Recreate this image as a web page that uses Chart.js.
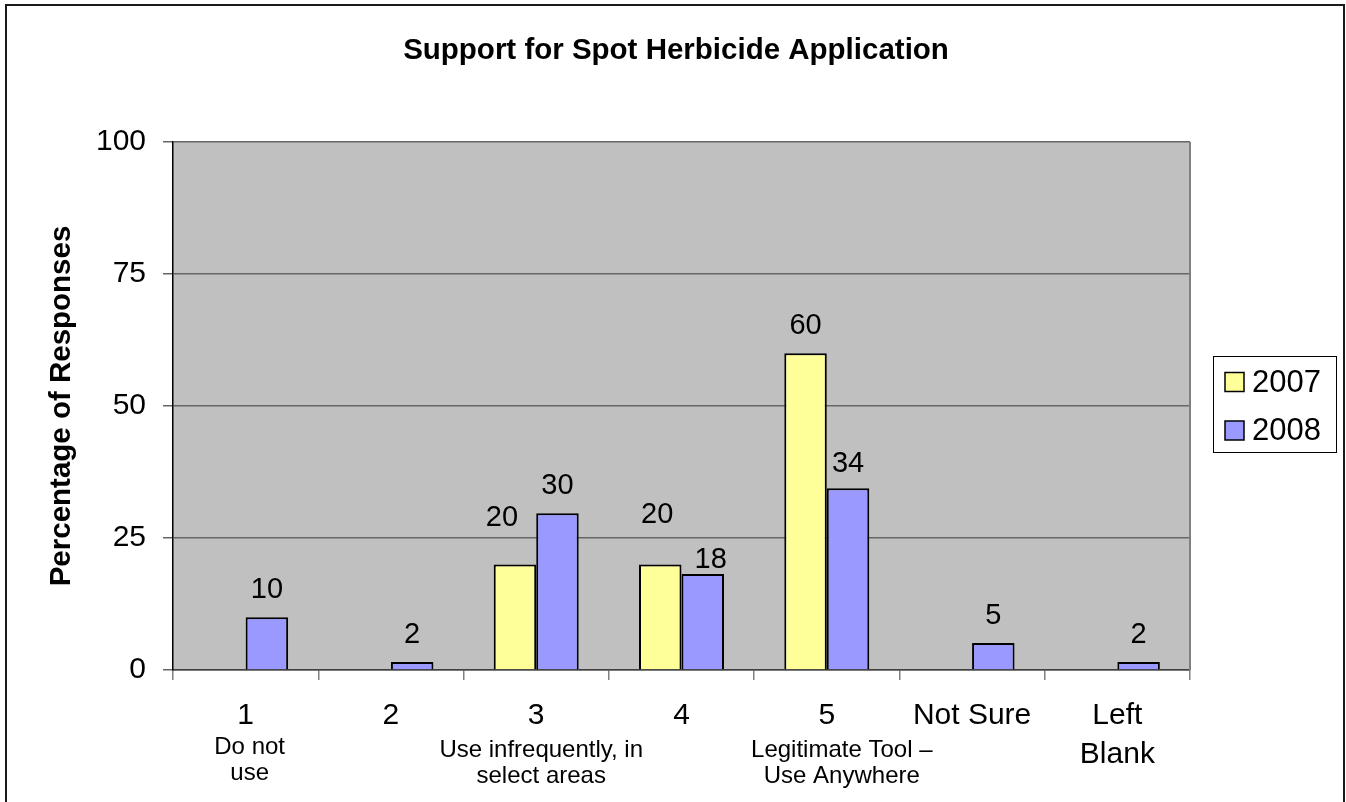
<!DOCTYPE html>
<html><head><meta charset="utf-8">
<script src="https://cdn.jsdelivr.net/npm/chart.js@4.4.0/dist/chart.umd.min.js"></script>
<style>html,body{margin:0;padding:0;background:#fff;overflow:hidden;}</style>
</head><body>
<canvas id="c" width="1346" height="802"></canvas>
<script>
// ---- data ----
const categories = [['1'], ['2'], ['3'], ['4'], ['5'], ['Not Sure'], ['Left', 'Blank']];
const subLabels = [['Do not', 'use'], [], ['Use infrequently, in', 'select areas'], [], ['Legitimate Tool –', 'Use Anywhere'], [], []];
const seriesNames = ['2007', '2008'];
const values2007 = [null, null, 20, 20, 60, null, null];
const values2008 = [10, 1.5, 29.7, 18.2, 34.4, 5.1, 1.5];
const yTicks = [0, 25, 50, 75, 100];
const chartTitle = 'Support for Spot Herbicide Application';
const yTitle = 'Percentage of Responses';

const FONT = '"Liberation Sans", Arial, Helvetica, sans-serif';
Chart.defaults.font.family = FONT;
Chart.defaults.color = '#000';

const outerBorder = {
  id: 'outerBorder',
  beforeDraw(chart) {
    const c = chart.ctx;
    c.save();
    c.fillStyle = '#fff';
    c.fillRect(0, 0, chart.width, chart.height);
    c.strokeStyle = '#1a1a1a';
    c.lineWidth = 2;
    c.beginPath();
    c.moveTo(6, 810); c.lineTo(6, 5); c.lineTo(1344, 5); c.lineTo(1344, 810);
    c.stroke();
    const a = chart.chartArea;
    c.fillStyle = '#C0C0C0';
    c.fillRect(a.left, a.top, a.right - a.left, a.bottom - a.top);
    // chart title, centred on the whole chart
    c.font = 'bold 29.5px ' + FONT;
    c.fillStyle = '#000';
    c.textAlign = 'center';
    c.textBaseline = 'middle';
    c.fillText(chartTitle, chart.width / 2 + 3, 51);
    c.restore();
  },
  beforeDatasetsDraw(chart) {
    const c = chart.ctx, a = chart.chartArea;
    c.save();
    c.strokeStyle = '#808080';
    c.lineWidth = 2;
    c.beginPath();
    c.moveTo(a.right, a.top); c.lineTo(a.right, a.bottom);
    c.stroke();
    c.restore();
  }
};

const dataLabels = {
  id: 'dataLabels',
  afterDatasetsDraw(chart, args, opts) {
    const c = chart.ctx;
    c.save();
    c.font = '29px ' + FONT;
    c.fillStyle = '#000';
    c.textAlign = 'center';
    c.textBaseline = 'middle';
    chart.data.datasets.forEach((ds, di) => {
      const meta = chart.getDatasetMeta(di);
      meta.data.forEach((el, i) => {
        const v = ds.data[i];
        if (v === null || v === undefined) return;
        const off = (opts.offsets[di] && opts.offsets[di][i]) || [0, opts.dy];
        c.fillText(String(Math.round(v)), el.x + off[0], el.y + off[1]);
      });
    });
    c.restore();
  }
};

const subLabelPlugin = {
  id: 'subLabels',
  afterDraw(chart, args, opts) {
    const c = chart.ctx, xs = chart.scales.x, a = chart.chartArea;
    c.save();
    c.font = '24px ' + FONT;
    c.fillStyle = '#000';
    c.textAlign = 'center';
    c.textBaseline = 'middle';
    subLabels.forEach((lines, i) => {
      const x = xs.getPixelForValue(i) + (opts.dx[i] || 0);
      lines.forEach((t, k) => c.fillText(t, x, a.bottom + opts.y0[i] + k * opts.lineGap));
    });
    c.restore();
  }
};

const boxLegend = {
  id: 'boxLegend',
  afterDraw(chart) {
    const c = chart.ctx, a = chart.chartArea;
    const left = a.right + 23, w = 123, h = 96;
    const top = (a.top + a.bottom) / 2 - 50;
    c.save();
    c.fillStyle = '#fff';
    c.fillRect(left, top, w, h);
    c.strokeStyle = '#000';
    c.lineWidth = 1;
    c.strokeRect(left + 0.5, top + 0.5, w, h);
    c.font = '31px ' + FONT;
    c.textAlign = 'left';
    c.textBaseline = 'middle';
    chart.data.datasets.forEach((ds, i) => {
      const cy = top + 26 + i * 48.5;
      c.fillStyle = ds.backgroundColor;
      c.fillRect(left + 12, cy - 9.5, 19, 19);
      c.strokeStyle = '#000';
      c.lineWidth = 1.5;
      c.strokeRect(left + 12, cy - 9.5, 19, 19);
      c.fillStyle = '#000';
      c.fillText(ds.label, left + 39, cy + 1);
    });
    c.restore();
  }
};

new Chart(document.getElementById('c'), {
  type: 'bar',
  data: {
    labels: categories,
    datasets: [
      { label: seriesNames[0], data: values2007, backgroundColor: '#FFFF99', borderColor: '#000', borderWidth: 2, categoryPercentage: 0.585, barPercentage: 1 },
      { label: seriesNames[1], data: values2008, backgroundColor: '#9999FF', borderColor: '#000', borderWidth: 2, categoryPercentage: 0.585, barPercentage: 1 }
    ]
  },
  options: {
    responsive: false,
    animation: false,
    devicePixelRatio: 1,
    layout: { padding: { left: 0, right: 156, top: 142, bottom: 0 } },
    plugins: {
      legend: { display: false },
      tooltip: { enabled: false },
      title: { display: false },
      dataLabels: {
        dy: -27,
        offsets: { 0: { 2: [-13, -46], 3: [-3, -49] }, 1: { 3: [8, -14], 4: [0, -24] } }
      },
      subLabels: { dx: [4, 0, 5, 0, 15, 0, 0], y0: [77, 0, 80, 0, 80, 0, 0], lineGap: 26 }
    },
    scales: {
      x: {
        ticks: { font: { size: 30, lineHeight: 1.3 }, color: '#000', padding: 16.5, maxRotation: 0, autoSkip: false },
        grid: { drawOnChartArea: false, drawTicks: true, tickLength: 10, color: '#808080', lineWidth: 1.5 },
        border: { color: '#404040', width: 1.5 },
        afterFit(s) { s.height = 132; }
      },
      y: {
        min: 0, max: 100,
        afterBuildTicks(s) { s.ticks = yTicks.map(v => ({ value: v })); },
        ticks: { font: { size: 30 }, color: '#000', padding: 17 },
        grid: { color: '#666', lineWidth: 1.5, tickLength: 10 },
        border: { color: '#000', width: 1.5 },
        title: {
          display: true, text: yTitle, color: '#000',
          font: { size: 29.5, weight: 'bold', lineHeight: 1.2 },
          padding: { top: 44.3, bottom: 0 }
        },
        afterFit(s) { s.width = 173; }
      }
    }
  },
  plugins: [outerBorder, dataLabels, subLabelPlugin, boxLegend]
});
</script>
</body></html>
